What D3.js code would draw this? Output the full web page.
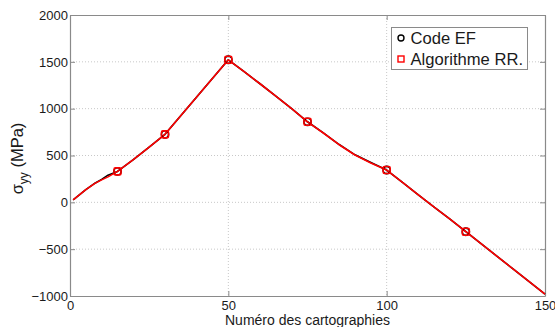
<!DOCTYPE html>
<html>
<head>
<meta charset="utf-8">
<script src="https://cdn.jsdelivr.net/npm/d3@7"></script>
<style>
  html, body { margin: 0; padding: 0; background: #fff; }
  svg { display: block; font-family: "Liberation Sans", Arial, sans-serif; }
</style>
</head>
<body>
<svg id="chart" width="555" height="327"></svg>
<script>
// Cartography index (x) at which stresses were sampled
const mapIndex = [1, 5, 8, 10, 12, 15, 20, 25, 30, 40, 50, 55, 60, 65, 70, 75, 80, 85, 90, 95, 100, 105, 110, 115, 120, 125, 130, 140, 150];
// sigma_yy from the finite element code (MPa)
const codeEF = [25, 135, 207, 245, 290, 330, 455, 590, 726, 1125, 1522, 1395, 1266, 1135, 1000, 860, 742, 617, 507, 425, 345, 213, 80, -50, -180, -314, -447, -713, -980];
// sigma_yy from the RR algorithm (MPa)
const algoRR = [25, 135, 205, 240, 272, 330, 455, 590, 726, 1125, 1522, 1395, 1266, 1135, 1000, 860, 740, 615, 505, 420, 345, 213, 80, -50, -180, -314, -447, -713, -980];
// Cartographies highlighted with markers
const markedIndex = [15, 30, 50, 75, 100, 125];

const xTicks = [0, 50, 100, 150];
const yTicks = [-1000, -500, 0, 500, 1000, 1500, 2000];
const seriesNames = ["Code EF", "Algorithme RR."];

const svg = d3.select("#chart");
const plotL = 70, plotR = 545, plotT = 15, plotB = 296;

const x = d3.scaleLinear().domain([0, 150]).range([plotL, plotR]);
const y = d3.scaleLinear().domain([-1000, 2000]).range([plotB, plotT]);

const axisColor = "#8a8a8a";
const textColor = "#1a1a1a";

// dotted grid
const grid = svg.append("g");
grid.selectAll("line.gx").data(xTicks.slice(1, -1)).join("line")
  .attr("x1", d => x(d)).attr("x2", d => x(d))
  .attr("y1", plotT).attr("y2", plotB)
  .attr("stroke", "#c8c8c8").attr("stroke-dasharray", "1,2").attr("stroke-width", 1);
grid.selectAll("line.gy").data(yTicks.slice(1, -1)).join("line")
  .attr("x1", plotL).attr("x2", plotR)
  .attr("y1", d => y(d)).attr("y2", d => y(d))
  .attr("stroke", "#c8c8c8").attr("stroke-dasharray", "1,2").attr("stroke-width", 1);

// axes (ticks inward, boxed)
const fmt = d3.format("d");
function styleAxis(g) {
  g.select(".domain").attr("stroke", axisColor).attr("stroke-width", 1.2);
  g.selectAll(".tick line").attr("stroke", axisColor);
  g.selectAll(".tick text").attr("fill", textColor).attr("font-size", 13)
    .attr("font-family", "'Liberation Sans', Arial, sans-serif");
}
svg.append("g").attr("transform", `translate(0,${plotB})`)
  .call(d3.axisBottom(x).tickValues(xTicks).tickFormat(fmt).tickSizeInner(-5).tickSizeOuter(0).tickPadding(5))
  .call(styleAxis);
svg.append("g").attr("transform", `translate(${plotL},0)`)
  .call(d3.axisLeft(y).tickValues(yTicks).tickFormat(fmt).tickSizeInner(-5).tickSizeOuter(0).tickPadding(2))
  .call(styleAxis);
svg.append("g").attr("transform", `translate(0,${plotT})`)
  .call(d3.axisTop(x).tickValues(xTicks).tickSizeInner(-5).tickSizeOuter(0).tickFormat(""))
  .call(styleAxis);
svg.append("g").attr("transform", `translate(${plotR},0)`)
  .call(d3.axisRight(y).tickValues(yTicks).tickSizeInner(-5).tickSizeOuter(0).tickFormat(""))
  .call(styleAxis);

// series lines
const line = d3.line().x((d, i) => x(mapIndex[i])).y(d => y(d));
svg.append("path").datum(codeEF).attr("d", line)
  .attr("fill", "none").attr("stroke", "#000").attr("stroke-width", 1.6)
  .attr("stroke-linejoin", "round");
svg.append("path").datum(algoRR).attr("d", line)
  .attr("fill", "none").attr("stroke", "#ff0000").attr("stroke-width", 1.6)
  .attr("stroke-linejoin", "round");

// markers at highlighted cartographies
const efPts = markedIndex.map(m => ({ x: m, v: codeEF[mapIndex.indexOf(m)] }));
const rrPts = markedIndex.map(m => ({ x: m, v: algoRR[mapIndex.indexOf(m)] }));
svg.append("g").selectAll("circle").data(efPts).join("circle")
  .attr("cx", d => x(d.x)).attr("cy", d => y(d.v)).attr("r", 3.6)
  .attr("fill", "none").attr("stroke", "#000").attr("stroke-width", 1.6);
svg.append("g").selectAll("rect").data(rrPts).join("rect")
  .attr("x", d => x(d.x) - 3.5).attr("y", d => y(d.v) - 3.5)
  .attr("width", 7).attr("height", 7).attr("rx", 1.5)
  .attr("fill", "none").attr("stroke", "#ff0000").attr("stroke-width", 1.6);

// legend
const lg = svg.append("g");
lg.append("rect").attr("x", 391.5).attr("y", 27.5).attr("width", 136).attr("height", 42)
  .attr("fill", "#fff").attr("stroke", axisColor).attr("stroke-width", 1);
lg.append("circle").attr("cx", 401).attr("cy", 38).attr("r", 3)
  .attr("fill", "none").attr("stroke", "#000").attr("stroke-width", 1.4);
lg.append("rect").attr("x", 398).attr("y", 56).attr("width", 6).attr("height", 6)
  .attr("fill", "none").attr("stroke", "#ff0000").attr("stroke-width", 1.4);
lg.selectAll("text").data(seriesNames).join("text")
  .attr("x", 410.5).attr("y", (d, i) => 44 + i * 21)
  .attr("font-size", 16.6).attr("fill", textColor).text(d => d);

// axis titles
svg.append("text").attr("x", (plotL + plotR) / 2).attr("y", 324.5)
  .attr("text-anchor", "middle").attr("font-size", 14).attr("fill", textColor)
  .text("Numéro des cartographies");

const yl = svg.append("text")
  .attr("transform", `translate(23,${(plotT + plotB) / 2 + 3}) rotate(-90)`)
  .attr("text-anchor", "middle").attr("font-size", 16.5).attr("fill", textColor);
yl.append("tspan").text("σ");
yl.append("tspan").attr("font-size", 12).attr("dy", 5).text("yy");
yl.append("tspan").attr("dy", -5).text(" (MPa)");
</script>
</body>
</html>
